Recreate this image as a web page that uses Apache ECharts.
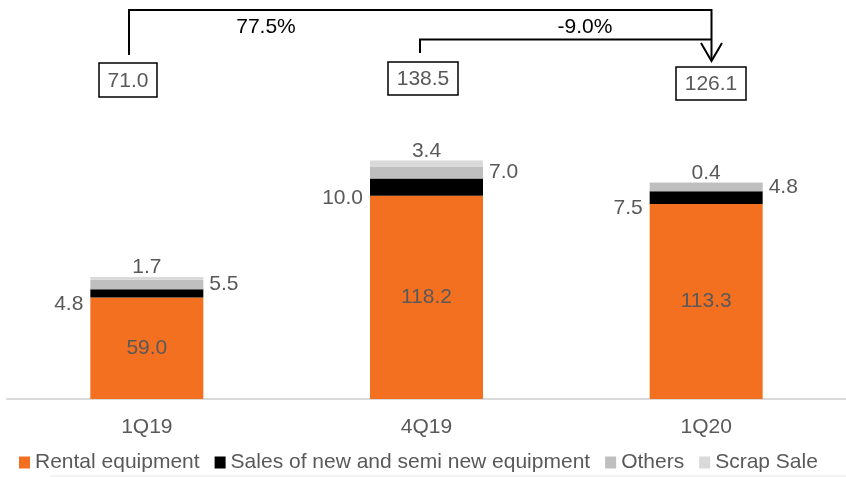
<!DOCTYPE html>
<html>
<head>
<meta charset="utf-8">
<script src="https://cdn.jsdelivr.net/npm/echarts@6/dist/echarts.min.js"></script>
<style>
  html, body { margin: 0; padding: 0; background: #fff; }
  #chart { width: 846px; height: 477px; }
</style>
</head>
<body>
<div id="chart"></div>
<script>
// Revenue breakdown by quarter (stacked)
const categories = ['1Q19', '4Q19', '1Q20'];
const rentalEquipment = [59.0, 118.2, 113.3];
const salesNewSemiNew = [4.8, 10.0, 7.5];
const others = [5.5, 7.0, 4.8];
const scrapSale = [1.7, 3.4, 0.4];
const totals = ['71.0', '138.5', '126.1'];
const growthLabels = ['77.5%', '-9.0%'];

const FONT = 'Arial, "Liberation Sans", sans-serif';
const GREY_TEXT = '#595959';

const chart = echarts.init(document.getElementById('chart'), null, { renderer: 'canvas' });

const baseLabel = { fontFamily: FONT, fontSize: 21, color: GREY_TEXT };

function fmt(v) { return v.toFixed(1); }

const option = {
  animation: false,
  backgroundColor: '#ffffff',
  textStyle: { fontFamily: FONT },
  grid: { left: 7, top: 55, width: 845, bottom: 78, containLabel: false },
  legend: {
    left: 14,
    top: 447,
    itemWidth: 11,
    itemHeight: 12,
    itemGap: 15,
    icon: 'rect',
    textStyle: { fontFamily: FONT, fontSize: 21, color: GREY_TEXT, padding: [0, 0, 0, 0] },
    data: ['Rental equipment', 'Sales of new and semi new equipment', 'Others', 'Scrap Sale']
  },
  xAxis: {
    type: 'category',
    data: categories,
    axisLine: { show: true, lineStyle: { color: '#d9d9d9', width: 2 } },
    axisTick: { show: false },
    axisLabel: { fontFamily: FONT, fontSize: 21, color: GREY_TEXT, margin: 18 }
  },
  yAxis: {
    type: 'value',
    min: 0,
    max: 200,
    show: false,
    splitLine: { show: false }
  },
  series: [
    {
      name: 'Rental equipment',
      type: 'bar',
      stack: 'total',
      barWidth: 113,
      itemStyle: { color: '#F37021' },
      label: Object.assign({ show: true, position: 'inside', formatter: p => fmt(p.value) }, baseLabel),
      data: rentalEquipment
    },
    {
      name: 'Sales of new and semi new equipment',
      type: 'bar',
      stack: 'total',
      itemStyle: { color: '#000000' },
      label: Object.assign({ show: true, position: 'left', distance: 7, offset: [0, 11], formatter: p => fmt(p.value) }, baseLabel),
      data: salesNewSemiNew
    },
    {
      name: 'Others',
      type: 'bar',
      stack: 'total',
      itemStyle: { color: '#BFBFBF' },
      label: Object.assign({ show: true, position: 'right', distance: 6, formatter: p => fmt(p.value) }, baseLabel),
      data: others
    },
    {
      name: 'Scrap Sale',
      type: 'bar',
      stack: 'total',
      itemStyle: { color: '#D9D9D9' },
      label: Object.assign({ show: true, position: 'top', distance: -1, formatter: p => fmt(p.value) }, baseLabel),
      data: scrapSale
    }
  ]
};

chart.setOption(option);

// Total boxes and growth brackets above the bars
function totalBox(x, y, w, h, text) {
  return {
    type: 'group',
    children: [
      { type: 'rect', shape: { x: x, y: y, width: w, height: h },
        style: { fill: '#ffffff', stroke: '#000000', lineWidth: 1.5 } },
      { type: 'text', x: x + w / 2, y: y + h / 2 + 1,
        style: { text: text, fill: GREY_TEXT, font: '21px ' + FONT, align: 'center', verticalAlign: 'middle' } }
    ]
  };
}

const lineStyle = { stroke: '#000000', lineWidth: 2, fill: null };

chart.setOption({
  graphic: [
    totalBox(99, 63, 58, 34, totals[0]),
    totalBox(388, 62, 70, 33, totals[1]),
    totalBox(676, 67, 70, 33, totals[2]),
    { type: 'polyline', shape: { points: [[129, 55], [129, 10], [711.5, 10], [711.5, 60]] }, style: lineStyle },
    { type: 'polyline', shape: { points: [[701, 43], [711.5, 61], [722, 43]] }, style: lineStyle },
    { type: 'polyline', shape: { points: [[420, 53], [420, 39.5], [711.5, 39.5]] }, style: lineStyle },
    { type: 'text', x: 266, y: 27,
      style: { text: growthLabels[0], fill: '#000000', font: '21px ' + FONT, align: 'center', verticalAlign: 'middle' } },
    { type: 'text', x: 585, y: 27,
      style: { text: growthLabels[1], fill: '#000000', font: '21px ' + FONT, align: 'center', verticalAlign: 'middle' } },
    { type: 'rect', shape: { x: 50, y: 475, width: 796, height: 2 }, style: { fill: '#f3f3f3' } }
  ]
});
</script>
</body>
</html>
